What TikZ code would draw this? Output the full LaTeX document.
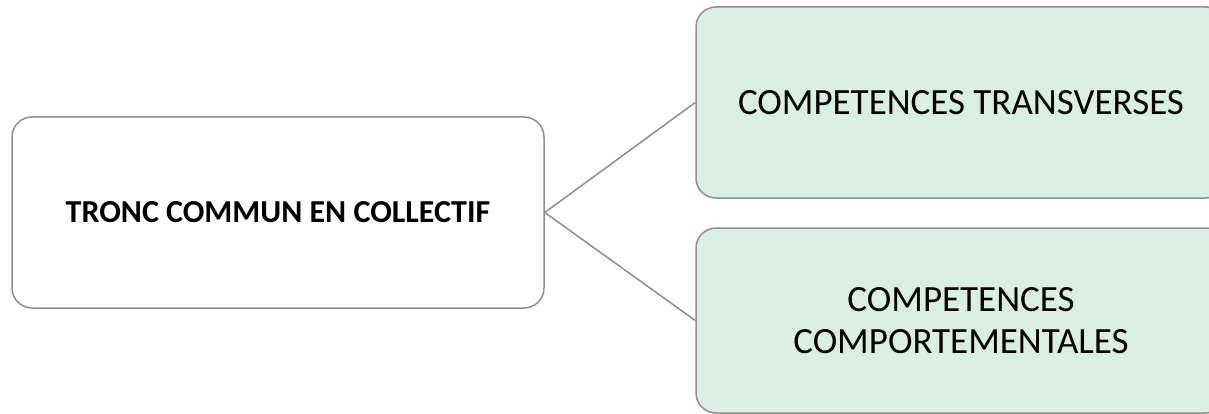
\documentclass[tikz,border=0pt]{standalone}
\usepackage{fontspec}
\setmainfont{Carlito}
\definecolor{boxgray}{HTML}{8E8E8E}
\definecolor{mintfill}{HTML}{DAEFE3}
\tikzset{
  rootbox/.style={draw=boxgray, line width=1.5pt, rounded corners=20pt, fill=white,
    minimum width=532pt, minimum height=191pt, inner sep=0pt,
    font=\fontsize{32}{38}\selectfont\bfseries},
  skillbox/.style={draw=boxgray, line width=1.5pt, rounded corners=20pt, fill=mintfill,
    minimum width=530pt, inner sep=0pt, align=center,
    font=\fontsize{37}{42}\selectfont},
  link/.style={draw=boxgray, line width=1.5pt}
}
\begin{document}
\begin{tikzpicture}[x=1pt,y=-1pt]
  \useasboundingbox (0,0) rectangle (1209,414);

  \node[rootbox] (tronc) at (278,212.5) {TRONC COMMUN EN COLLECTIF};
  \node[skillbox, minimum height=191pt] (transv) at (961,102.5) {COMPETENCES TRANSVERSES};
  \node[skillbox, minimum height=185pt] (comport) at (961,320.5) {COMPETENCES\\COMPORTEMENTALES};

  \draw[link] (tronc.east) -- (transv.west);
  \draw[link] (tronc.east) -- (comport.west);
\end{tikzpicture}
\end{document}
